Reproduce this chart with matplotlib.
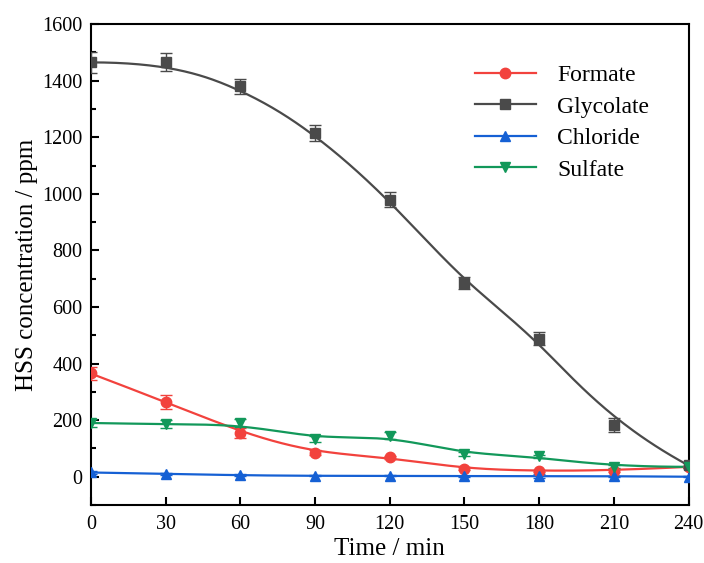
import numpy as np
import matplotlib
matplotlib.use("Agg")
import matplotlib.pyplot as plt
from matplotlib.ticker import MultipleLocator

time = [0, 30, 60, 90, 120, 150, 180, 210, 240]
formate = [365, 265, 155, 85, 68, 28, 20, 22, 35]
formate_err = [22, 25, 18, 8, 6, 5, 4, 4, 4]
glycolate = [1465, 1465, 1380, 1215, 980, 685, 488, 183, 40]
glycolate_err = [38, 32, 28, 28, 25, 22, 22, 25, 8]
chloride = [15, 10, 5, 3, 3, 2, 2, 2, 0]
chloride_err = [4, 3, 3, 2, 2, 2, 8, 2, 2]
sulfate = [190, 185, 190, 133, 145, 80, 72, 35, 35]
sulfate_err = [14, 14, 14, 10, 12, 8, 6, 5, 4]

names = ["Formate", "Glycolate", "Chloride", "Sulfate"]
colors = ["#f2423d", "#4a4a4a", "#1560d4", "#12985a"]
markers = ["o", "s", "^", "v"]

plt.rcParams['font.family'] = ['Liberation Serif', 'DejaVu Serif']


def bspline(xs, ys, n=300):
    # clamped uniform cubic B-spline using data points as control points
    P = np.column_stack([xs, ys]).astype(float)
    k = 3
    m = len(P)
    inner = np.linspace(0, 1, m - k + 1)
    t = np.concatenate([[0] * k, inner, [1] * k])
    us = np.linspace(0, 1, n)
    out = []
    for u in us:
        if u >= 1:
            out.append(P[-1]); continue
        j = np.searchsorted(t, u, side='right') - 1
        d = [P[j - k + i].copy() for i in range(k + 1)]
        for r in range(1, k + 1):
            for i in range(k, r - 1, -1):
                a = (u - t[j - k + i]) / (t[j + 1 + i - r] - t[j - k + i])
                d[i] = (1 - a) * d[i - 1] + a * d[i]
        out.append(d[k])
    out = np.array(out)
    return out[:, 0], out[:, 1]


fig = plt.figure(figsize=(7.04, 5.63), dpi=100)
ax = fig.add_axes([0.129, 0.103, 0.849, 0.854])

series = [(formate, formate_err), (glycolate, glycolate_err),
          (chloride, chloride_err), (sulfate, sulfate_err)]
for (vals, errs), name, c, mk in zip(series, names, colors, markers):
    sx, sy = bspline(time, vals)
    ax.plot(sx, sy, color=c, lw=1.6, zorder=2)
    ax.errorbar(time, vals, yerr=errs, fmt='none', ecolor=c, elinewidth=1.0,
                capsize=4, capthick=1.0, zorder=3)
    ax.plot(time, vals, linestyle='none', marker=mk, color=c, ms=7.5, zorder=4)
    ax.plot([], [], color=c, marker=mk, ms=7.5, lw=1.6, label=name)

ax.set_xlim(0, 240)
ax.set_ylim(-100, 1600)
ax.set_xticks(time)
ax.yaxis.set_major_locator(MultipleLocator(200))
ax.yaxis.set_minor_locator(MultipleLocator(100))
ax.tick_params(axis='both', which='major', direction='in', length=6, width=1.5,
               labelsize=14.5, top=False, right=False)
ax.tick_params(axis='y', which='minor', direction='in', length=3.5, width=1.5)
ax.tick_params(axis='x', pad=7)
ax.tick_params(axis='y', pad=6)
for s in ax.spines.values():
    s.set_linewidth(1.5)

ax.set_xlabel("Time / min", fontsize=18, labelpad=3)
ax.set_ylabel("HSS concentration / ppm", fontsize=18, labelpad=3)

ax.legend(loc='upper right', bbox_to_anchor=(0.97, 0.96), frameon=False,
          fontsize=17, handlelength=2.6, labelspacing=0.42, handletextpad=0.9)

fig.savefig("out.png", dpi=100)
